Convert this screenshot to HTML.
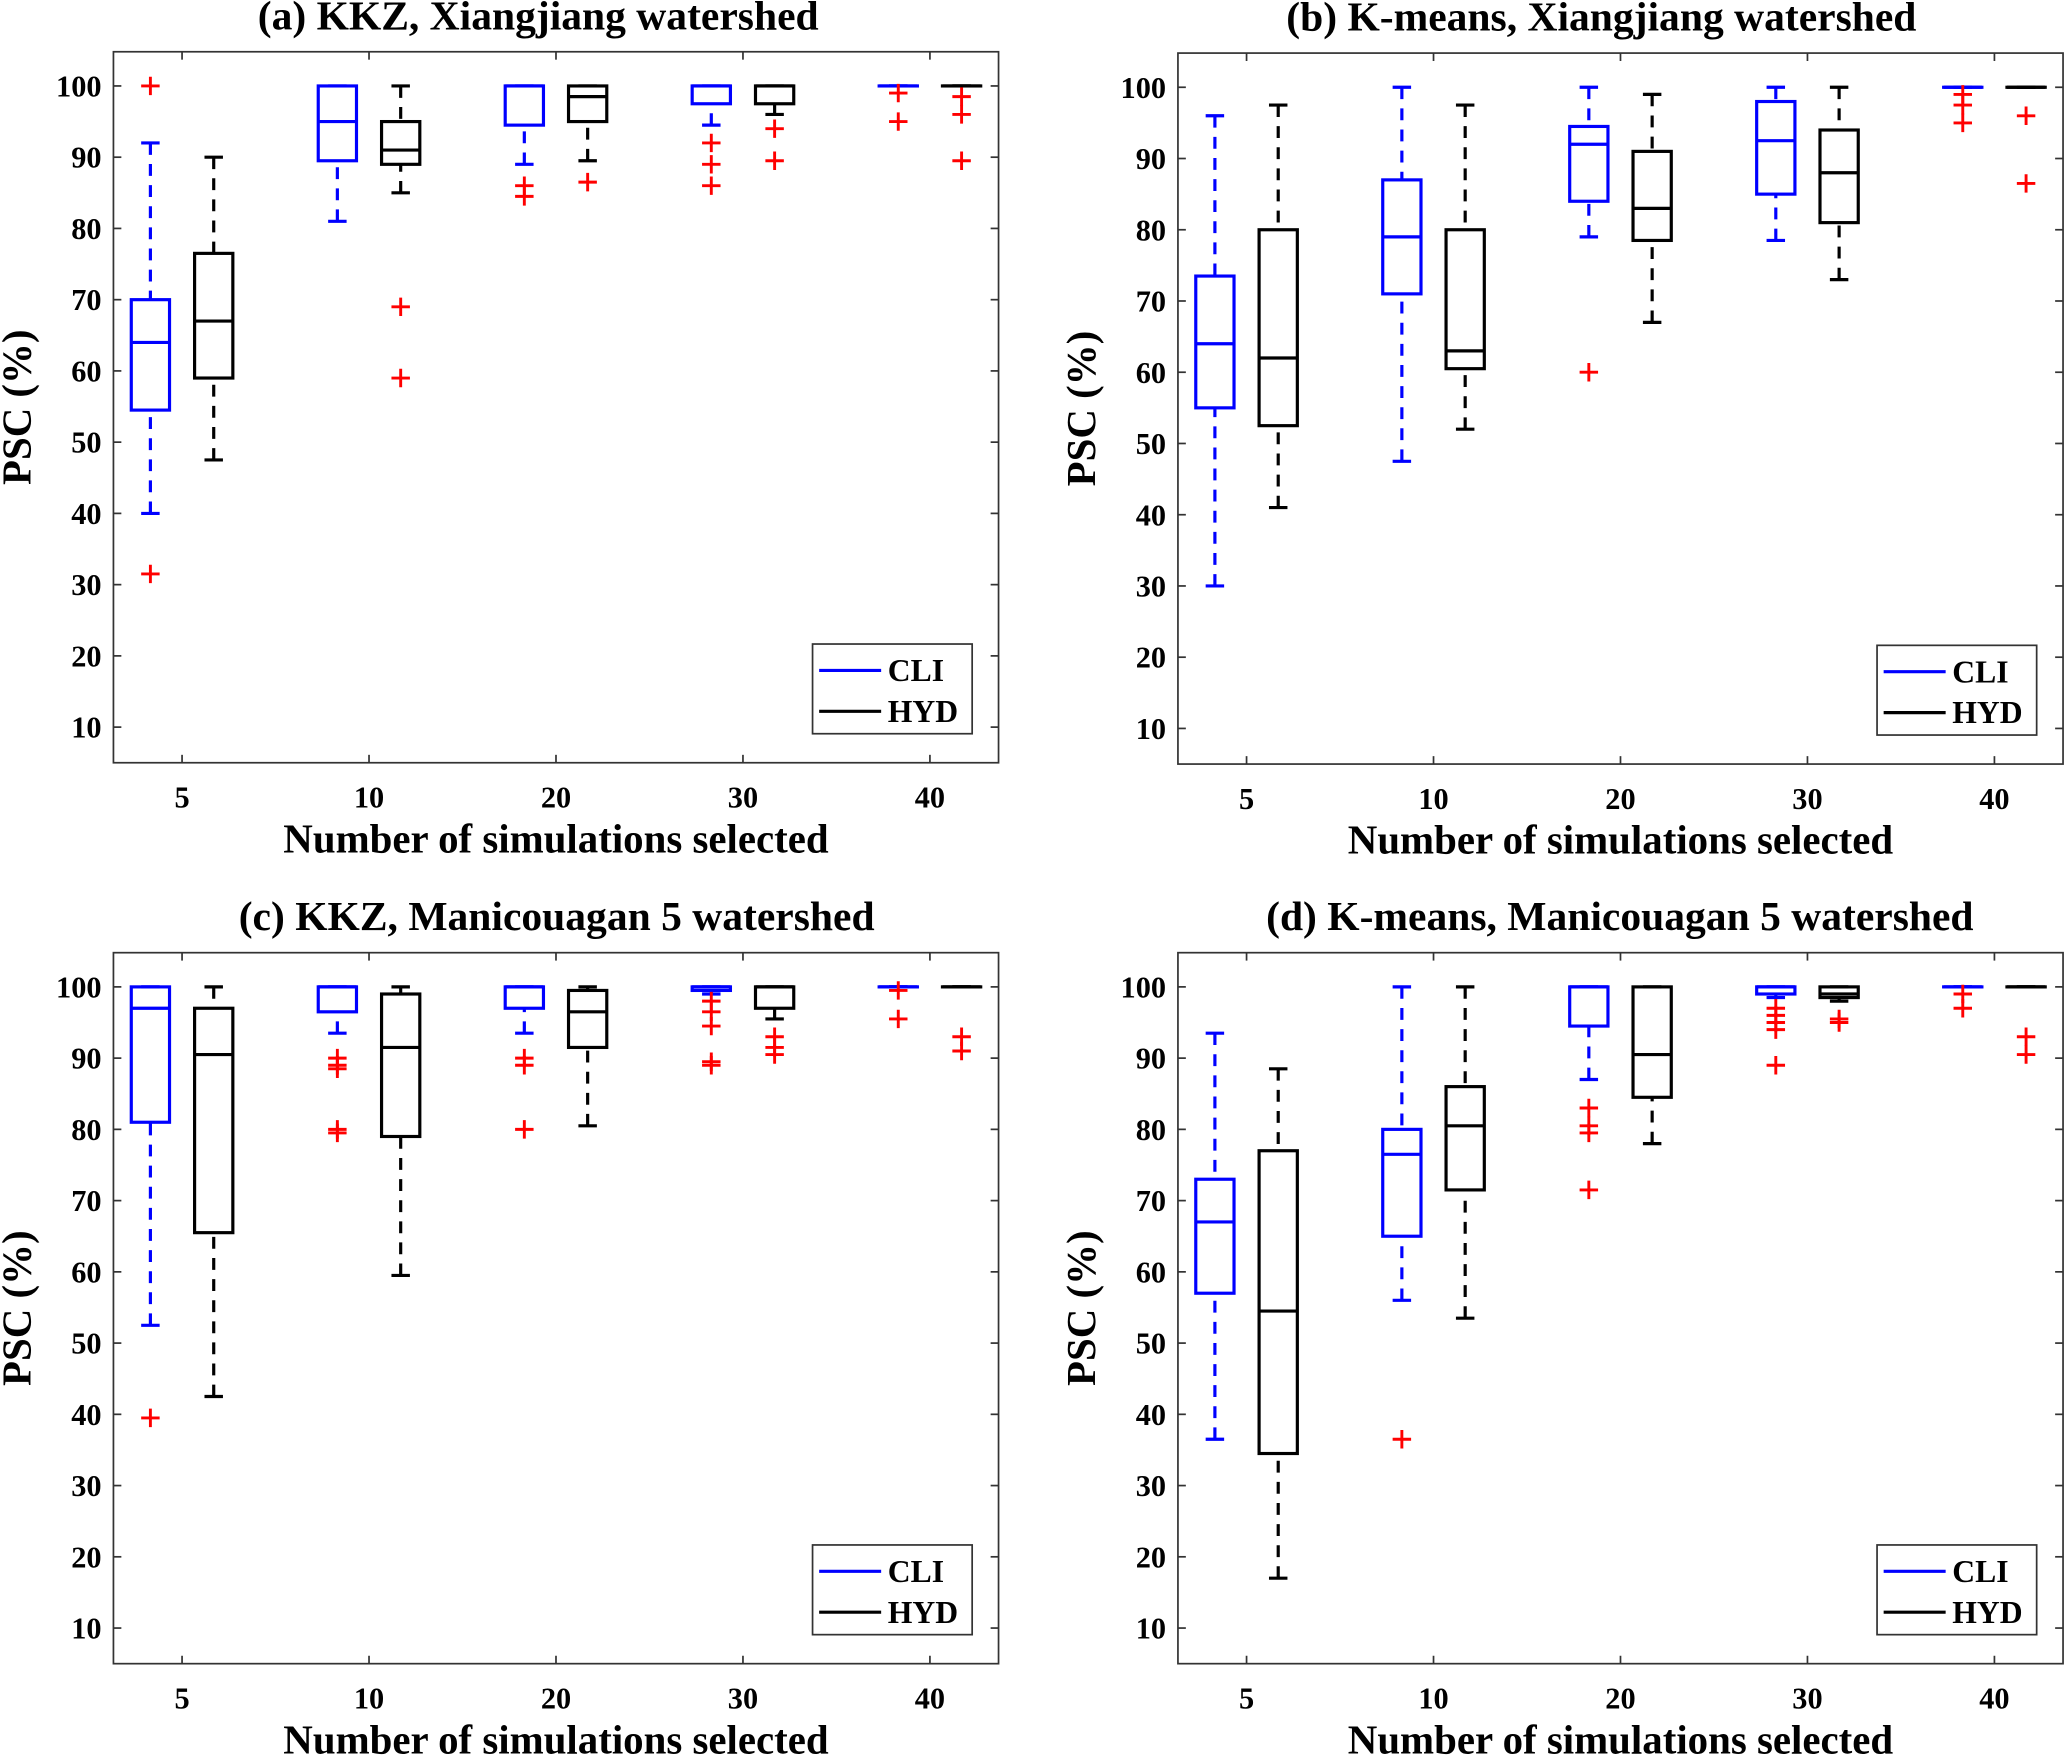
<!DOCTYPE html>
<html><head><meta charset="utf-8"><style>
html,body{margin:0;padding:0;background:#fff}
svg{display:block}
text{font-family:"Liberation Serif",serif;font-weight:bold;fill:#000}
</style></head><body>
<svg id="fig" width="2067" height="1755" viewBox="0 0 1567 1330" xmlns="http://www.w3.org/2000/svg"></svg>
<script>
const categories = ["5","10","20","30","40"];
const yTicks = [10,20,30,40,50,60,70,80,90,100];
const titles = ["(a) KKZ, Xiangjiang watershed","(b) K-means, Xiangjiang watershed","(c) KKZ, Manicouagan 5 watershed","(d) K-means, Manicouagan 5 watershed"];
// each box: [lowWhisker, q1, median, q3, highWhisker]
const cliA = [[40,54.5,64,70,92],[81,89.5,95,100,100],[89,94.5,100,100,100],[94.5,97.5,100,100,100],[100,100,100,100,100]];
const hydA = [[47.5,59,67,76.5,90],[85,89,91,95,100],[89.5,95,98.5,100,100],[96,97.5,100,100,100],[100,100,100,100,100]];
const cliOutA = [[100,31.5],[],[86,84.5],[92,89,86],[99,95]];
const hydOutA = [[],[69,59],[86.5],[94,89.5],[98.5,96,89.5]];
const cliB = [[30,55,64,73.5,96],[47.5,71,79,87,100],[79,84,92,94.5,100],[78.5,85,92.5,98,100],[100,100,100,100,100]];
const hydB = [[41,52.5,62,80,97.5],[52,60.5,63,80,97.5],[67,78.5,83,91,99],[73,81,88,94,100],[100,100,100,100,100]];
const cliOutB = [[],[],[60],[],[99,97.5,95]];
const hydOutB = [[],[],[],[],[96,86.5]];
const cliC = [[52.5,81,97,100,100],[93.5,96.5,100,100,100],[93.5,97,100,100,100],[99,99.5,100,100,100],[100,100,100,100,100]];
const hydC = [[42.5,65.5,90.5,97,100],[59.5,79,91.5,99,100],[80.5,91.5,96.5,99.5,100],[95.5,97,100,100,100],[100,100,100,100,100]];
const cliOutC = [[39.5],[90,89,88.5,80,79.5],[90,89,80],[98,96.5,94.5,89.5,89],[99.5,95.5]];
const hydOutC = [[],[],[],[93,91.5,90.5],[93,91]];
const cliD = [[36.5,57,67,73,93.5],[56,65,76.5,80,100],[87,94.5,100,100,100],[98.5,99,100,100,100],[100,100,100,100,100]];
const hydD = [[17,34.5,54.5,77,88.5],[53.5,71.5,80.5,86,100],[78,84.5,90.5,100,100],[98,98.5,99,100,100],[100,100,100,100,100]];
const cliOutD = [[],[36.5],[83,80.5,79.5,71.5],[97,96,95,94,89],[99,97]];
const hydOutD = [[],[],[],[95.5,95],[93,90.5]];

const panels = [
 {x0:86,y0:39,tc:408,cli:cliA,hyd:hydA,co:cliOutA,ho:hydOutA},
 {x0:893,y0:40,tc:1214,cli:cliB,hyd:hydB,co:cliOutB,ho:hydOutB},
 {x0:86,y0:722,tc:422,cli:cliC,hyd:hydC,co:cliOutC,ho:hydOutC},
 {x0:893,y0:722,tc:1228,cli:cliD,hyd:hydD,co:cliOutD,ho:hydOutD}
];
const NS="http://www.w3.org/2000/svg";
const svg=document.getElementById('fig');
function mk(tag,attrs,parent){const e=document.createElementNS(NS,tag);for(const k in attrs)e.setAttribute(k,attrs[k]);(parent||svg).appendChild(e);return e;}
const W=671,H=539,YMIN=5,YMAX=104.8,XMIN=0.633,XMAX=5.367;
panels.forEach((p,pi)=>{
  const g=mk('g',{});
  
  
  const sx=v=>p.x0+(v-XMIN)/(XMAX-XMIN)*W;
  const sy=v=>p.y0+H-(v-YMIN)/(YMAX-YMIN)*H;
  const ax=mk('rect',{x:p.x0,y:p.y0,width:W,height:H,fill:'none',stroke:'#333','stroke-width':1.3},g);
  
  
  yTicks.forEach(t=>{
    const y=sy(t);
    mk('line',{x1:p.x0,x2:p.x0+6,y1:y,y2:y,stroke:'#333','stroke-width':1.3},g);
    mk('line',{x1:p.x0+W,x2:p.x0+W-6,y1:y,y2:y,stroke:'#333','stroke-width':1.3},g);
    const tx=mk('text',{x:p.x0-9,y:y+8,'font-size':23,'text-anchor':'end'},g);
    tx.textContent=t;
    
    
  });
  categories.forEach((c,i)=>{
    const x=sx(i+1);
    mk('line',{x1:x,x2:x,y1:p.y0+H,y2:p.y0+H-6,stroke:'#333','stroke-width':1.3},g);
    mk('line',{x1:x,x2:x,y1:p.y0,y2:p.y0+6,stroke:'#333','stroke-width':1.3},g);
    const tx=mk('text',{x:x,y:p.y0+H+34,'font-size':23,'text-anchor':'middle'},g);
    tx.textContent=c;
    
    
    [[p.cli[i],p.co[i],'#0000ff',-24,'cli'],[p.hyd[i],p.ho[i],'#000',24,'hyd']].forEach(([b,outs,col,off,nm])=>{
      const cx=x+off,hw=14.5,cw=7;
      const bg=mk('g',{},g);
      
      
      const lw=2.4;
      if(b[1]>b[0]) mk('line',{x1:cx,x2:cx,y1:sy(b[0]),y2:sy(b[1]),stroke:col,'stroke-width':lw,'stroke-dasharray':'9,7'},bg);
      if(b[4]>b[3]) mk('line',{x1:cx,x2:cx,y1:sy(b[4]),y2:sy(b[3]),stroke:col,'stroke-width':lw,'stroke-dasharray':'9,7'},bg);
      mk('line',{x1:cx-cw,x2:cx+cw,y1:sy(b[0]),y2:sy(b[0]),stroke:col,'stroke-width':lw},bg);
      mk('line',{x1:cx-cw,x2:cx+cw,y1:sy(b[4]),y2:sy(b[4]),stroke:col,'stroke-width':lw},bg);
      mk('rect',{x:cx-hw,y:sy(b[3]),width:2*hw,height:Math.max(0.01,sy(b[1])-sy(b[3])),fill:'none',stroke:col,'stroke-width':lw},bg);
      mk('line',{x1:cx-hw,x2:cx+hw,y1:sy(b[2]),y2:sy(b[2]),stroke:col,'stroke-width':lw},bg);
      outs.forEach(o=>{
        const oy=sy(o);
        const pl=mk('path',{d:`M${cx-7},${oy}H${cx+7}M${cx},${oy-7}V${oy+7}`,stroke:'#ff0000','stroke-width':2.2,fill:'none'},bg);
        
        
      });
    });
  });
  const t=mk('text',{x:p.tc,y:p.y0-17,'font-size':31.5,'text-anchor':'middle'},g);
  t.textContent=titles[pi];
  
  
  const xl=mk('text',{x:p.x0+W/2,y:p.y0+H+68,'font-size':31,'text-anchor':'middle'},g);
  xl.textContent='Number of simulations selected';
  
  
  const yx=p.x0-63,yy=p.y0+H/2;
  const yl=mk('text',{x:yx,y:yy,'font-size':31,'text-anchor':'middle',transform:`rotate(-90 ${yx} ${yy})`},g);
  yl.textContent='PSC (%)';
  
  
  const lg=mk('g',{},g);
  
  
  const lx=p.x0+530,ly=p.y0+449;
  mk('rect',{x:lx,y:ly,width:121,height:68,fill:'#fff',stroke:'#333','stroke-width':1.3},lg);
  mk('line',{x1:lx+5,x2:lx+52,y1:ly+20,y2:ly+20,stroke:'#0000ff','stroke-width':2.4},lg);
  mk('line',{x1:lx+5,x2:lx+52,y1:ly+51,y2:ly+51,stroke:'#000','stroke-width':2.4},lg);
  const l1=mk('text',{x:lx+57,y:ly+28,'font-size':24},lg); l1.textContent='CLI';
  
  
  const l2=mk('text',{x:lx+57,y:ly+59,'font-size':24},lg); l2.textContent='HYD';
  
  
});
</script>
</body></html>
